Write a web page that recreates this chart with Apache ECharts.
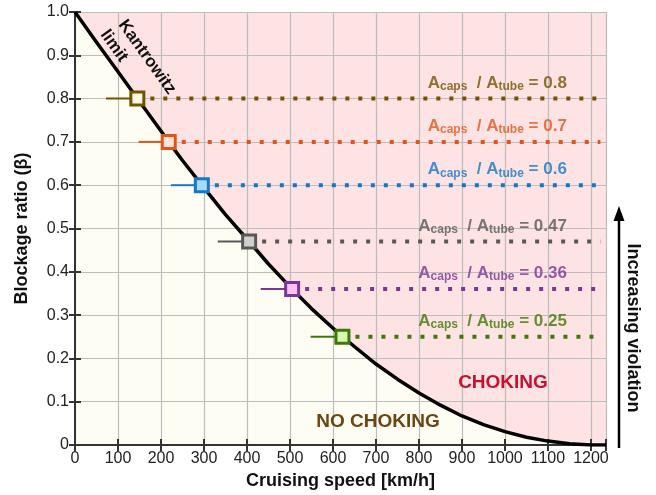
<!DOCTYPE html>
<html>
<head>
<meta charset="utf-8">
<script src="https://cdn.jsdelivr.net/npm/echarts@6/dist/echarts.min.js"></script>
<style>
  html, body { margin: 0; padding: 0; background: #fff; }
  #chart { width: 656px; height: 495px; }
</style>
</head>
<body>
<div id="chart"></div>
<script>
// Kantrowitz limit curve
const curveSpeed = [0, 50, 100, 145, 200, 218, 250, 295, 350, 405, 450, 505, 550, 622, 700, 750, 800, 850, 900, 950, 1000, 1050, 1100, 1150, 1200, 1235];
const curveBeta = [1.0, 0.93, 0.862, 0.80, 0.725, 0.70, 0.657, 0.60, 0.532, 0.47, 0.418, 0.36, 0.315, 0.25, 0.187, 0.152, 0.12, 0.092, 0.067, 0.047, 0.031, 0.018, 0.009, 0.003, 0.0, 0.0];

// capsule / tube area ratios
const ratioLabels = ["0.8", "0.7", "0.6", "0.47", "0.36", "0.25"];
const ratioBeta = [0.8, 0.7, 0.6, 0.47, 0.36, 0.25];
const markerSpeed = [145, 218, 295, 405, 505, 622];
const leadStart = [72, 148, 223, 332, 432, 548];
const lineEnd = 1222;

const xTicks = [0, 100, 200, 300, 400, 500, 600, 700, 800, 900, 1000, 1100, 1200];

const lineColors = ["#735200", "#e0561a", "#1677c4", "#585858", "#7a3696", "#3e7806"];
const fillColors = ["#fdf7e4", "#fde3dc", "#a6dbf7", "#cfcfcf", "#f6c2f6", "#d9f6b4"];

const FONT = "Liberation Sans, Arial, sans-serif";
const chart = echarts.init(document.getElementById("chart"));

const series = [];
// cream area under curve
series.push({
  type: "line",
  data: curveSpeed.map((v, i) => [v, curveBeta[i]]),
  showSymbol: false,
  silent: true,
  lineStyle: { width: 0 },
  areaStyle: { color: "#fefdf4", opacity: 1 },
  z: 1
});
// curve itself
series.push({
  type: "line",
  data: curveSpeed.map((v, i) => [v, curveBeta[i]]),
  showSymbol: false,
  silent: true,
  lineStyle: { color: "#000", width: 3.5, join: "round" },
  z: 3
});

ratioBeta.forEach((b, i) => {
  series.push({
    type: "line",
    data: [[leadStart[i], b], [markerSpeed[i], b]],
    showSymbol: false,
    silent: true,
    lineStyle: { color: lineColors[i], width: 2 },
    z: 3
  });
  series.push({
    type: "line",
    data: [[markerSpeed[i], b], [lineEnd, b]],
    showSymbol: false,
    silent: true,
    lineStyle: { color: lineColors[i], width: 4, type: [4, 9], cap: "butt" },
    z: 3
  });
  series.push({
    type: "scatter",
    data: [[markerSpeed[i], b]],
    symbol: "rect",
    symbolSize: 13,
    silent: true,
    itemStyle: { color: fillColors[i], borderColor: lineColors[i], borderWidth: 3, opacity: 1 },
    z: 5
  });
  series.push({
    type: "scatter",
    data: [[1144, b]],
    symbolSize: 0,
    silent: true,
    z: 6,
    label: {
      show: true,
      position: "left",
      distance: 0,
      offset: [0, -15],
      formatter: "{a|A}{s|caps}{a|  / A}{s|tube}{a| = " + ratioLabels[i] + "}",
      rich: {
        a: { fontFamily: FONT, fontWeight: "bold", fontSize: 17, color: lineColors[i], verticalAlign: "top" },
        s: { fontFamily: FONT, fontWeight: "bold", fontSize: 12, color: lineColors[i], verticalAlign: "bottom", padding: [6, 0, 0, 0] }
      }
    }
  });
});

const tickStyle = { inside: true, length: 6, lineStyle: { color: "#333", width: 2 } };
const lineStyleAxis = { show: true, lineStyle: { color: "#333", width: 2 } };

chart.setOption({
  animation: false,
  grid: { left: 75, top: 12, right: 50, bottom: 48, show: true, backgroundColor: "#fde3e3", borderWidth: 0 },
  xAxis: [{
    type: "value", min: 0, max: 1235, interval: 100, z: 1.5,
    axisLine: lineStyleAxis, axisTick: tickStyle,
    axisLabel: {
      color: "#222", fontFamily: FONT, fontSize: 16, margin: 6,
      formatter: v => xTicks.indexOf(v) >= 0 ? String(v) : ""
    },
    splitLine: { show: true, lineStyle: { color: "#bdbdbd", width: 1.2 } },
    name: "Cruising speed [km/h]", nameLocation: "middle", nameGap: 27,
    nameTextStyle: { fontFamily: FONT, fontWeight: "bold", fontSize: 18, color: "#111" }
  }, {
    type: "value", min: 0, max: 1235, interval: 100, position: "top", z: 1.5,
    axisLine: lineStyleAxis, axisTick: tickStyle, axisLabel: { show: false }, splitLine: { show: false }
  }],
  yAxis: [{
    type: "value", min: 0, max: 1, interval: 0.1, z: 1.5,
    axisLine: lineStyleAxis, axisTick: tickStyle,
    axisLabel: {
      color: "#222", fontFamily: FONT, fontSize: 16, margin: 6,
      formatter: v => v === 0 ? "0" : v.toFixed(1)
    },
    splitLine: { show: true, lineStyle: { color: "#bdbdbd", width: 1.2 } },
    name: "Blockage ratio (β)", nameLocation: "middle", nameGap: 44,
    nameTextStyle: { fontFamily: FONT, fontWeight: "bold", fontSize: 18, color: "#111" }
  }, {
    type: "value", min: 0, max: 1, interval: 0.1, position: "right", z: 1.5,
    axisLine: lineStyleAxis, axisTick: tickStyle, axisLabel: { show: false }, splitLine: { show: false }
  }],
  series: series,
  graphic: [
    { type: "text", x: 147, y: 57, rotation: -0.95, z: 10,
      style: { text: "Kantrowitz", font: "bold 17px " + FONT, fill: "#111", align: "center", verticalAlign: "middle" } },
    { type: "text", x: 114, y: 46, rotation: -0.95, z: 10,
      style: { text: "limit", font: "bold 17px " + FONT, fill: "#111", align: "center", verticalAlign: "middle" } },
    { type: "text", x: 503, y: 383, z: 10,
      style: { text: "CHOKING", font: "bold 19px " + FONT, fill: "#c8102e", align: "center", verticalAlign: "middle" } },
    { type: "text", x: 378, y: 422, z: 10,
      style: { text: "NO CHOKING", font: "bold 19px " + FONT, fill: "#6b4610", align: "center", verticalAlign: "middle" } },
    { type: "text", x: 633, y: 328, rotation: -Math.PI / 2, z: 10,
      style: { text: "Increasing violation", font: "bold 18px " + FONT, fill: "#111", align: "center", verticalAlign: "middle" } },
    { type: "line", z: 10, shape: { x1: 619, y1: 448, x2: 619, y2: 218 }, style: { stroke: "#000", lineWidth: 2.5 } },
    { type: "polygon", z: 10, shape: { points: [[619, 206], [613.5, 221], [624.5, 221]] }, style: { fill: "#000" } }
  ]
});
</script>
</body>
</html>
